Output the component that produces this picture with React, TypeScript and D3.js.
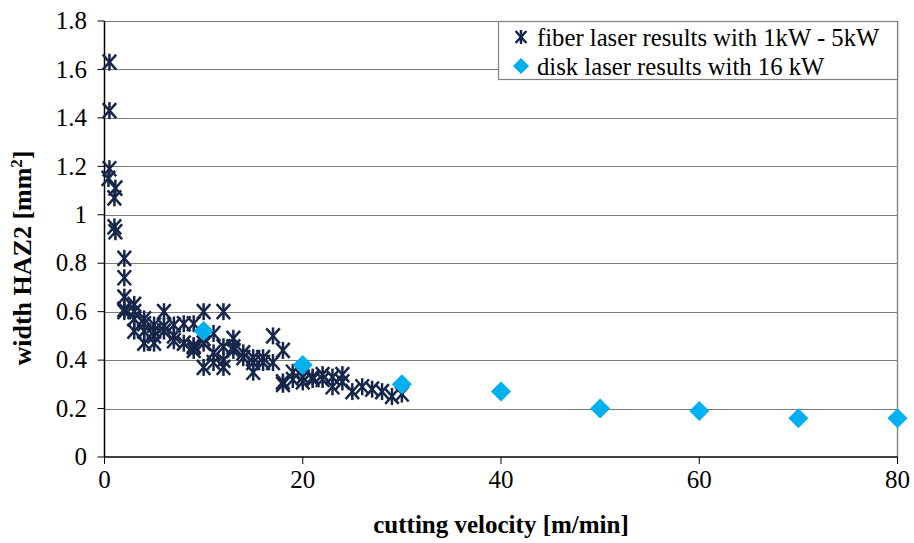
import React from "react";
import * as d3 from "d3";

// Fiber laser measurements: cutting velocity [m/min] and HAZ2 width
const fiberVelocity = [
  0.5, 0.5, 0.5, 0.4, 1.1, 1.0, 1.0, 1.1,
  2, 2, 2, 2, 2,
  3, 3, 3, 3,
  4, 4, 4, 4,
  5, 5, 5, 5,
  6, 6, 6,
  7, 7, 7,
  8, 8,
  9, 9, 9, 9,
  10, 10, 10, 10,
  11, 11, 11,
  12, 12, 12, 12,
  13, 13, 13,
  14, 14,
  15, 15, 15,
  16, 16,
  17, 17,
  18, 18, 18,
  19, 19,
  20, 20,
  21, 21,
  22, 22,
  23, 23,
  24, 24,
  25, 26, 27, 28, 29, 30,
];
const fiberWidth = [
  1.63, 1.43, 1.19, 1.15, 1.11, 1.07, 0.95, 0.93,
  0.82, 0.74, 0.66, 0.61, 0.6,
  0.63, 0.57, 0.52, 0.6,
  0.57, 0.52, 0.47, 0.55,
  0.47, 0.545, 0.5, 0.52,
  0.6, 0.52, 0.54,
  0.545, 0.48, 0.5,
  0.55, 0.47,
  0.55, 0.455, 0.46, 0.44,
  0.6, 0.47, 0.37, 0.49,
  0.51, 0.43, 0.39,
  0.6, 0.455, 0.37, 0.4,
  0.49, 0.455, 0.44,
  0.43, 0.41,
  0.41, 0.35, 0.39,
  0.41, 0.39,
  0.5, 0.39,
  0.44, 0.31, 0.3,
  0.35, 0.32,
  0.31, 0.33,
  0.33, 0.32,
  0.34, 0.32,
  0.33, 0.29,
  0.34, 0.31,
  0.27, 0.29, 0.28, 0.27, 0.25, 0.26,
];

// Disk laser measurements
const diskVelocity = [10, 20, 30, 40, 50, 60, 70, 80];
const diskWidth = [0.52, 0.38, 0.3, 0.27, 0.2, 0.19, 0.16, 0.16];

const xTicks = [0, 20, 40, 60, 80];
const yTicks = [0, 0.2, 0.4, 0.6, 0.8, 1, 1.2, 1.4, 1.6, 1.8];
const legendLabels = [
  "fiber laser results with 1kW - 5kW",
  "disk laser results with 16 kW",
];

const W = 914;
const H = 543;
const left = 104.5;
const right = 897.5;
const top = 21;
const bottom = 457;

const navy = "#15264a";
const cyan = "#00b0f0";
const serif = "Liberation Serif, DejaVu Serif, serif";

function Asterisk({ x, y, r = 7.5 }: { x: number; y: number; r?: number }) {
  const d = r * 0.9;
  return (
    <g stroke={navy} strokeWidth={2.5} fill="none">
      <line x1={x - d} y1={y - r} x2={x + d} y2={y + r} />
      <line x1={x - d} y1={y + r} x2={x + d} y2={y - r} />
      <line x1={x} y1={y - r - 1} x2={x} y2={y + r + 1} />
    </g>
  );
}

function Diamond({ x, y, r = 10 }: { x: number; y: number; r?: number }) {
  return (
    <path
      d={`M${x},${y - r}L${x + r},${y}L${x},${y + r}L${x - r},${y}Z`}
      fill={cyan}
    />
  );
}

export default function App() {
  const xScale = d3.scaleLinear().domain([0, 80]).range([left, right]);
  const yScale = d3.scaleLinear().domain([0, 1.8]).range([bottom, top]);
  const txt = { fontFamily: serif };

  return (
    <svg
      width={W}
      height={H}
      style={{ position: "absolute", left: 0, top: 0, background: "#fff", fontFamily: serif }}
    >
      <rect x={0} y={0} width={W} height={H} fill="#fff" />
      {/* gridlines */}
      {yTicks.slice(1).map((t) => (
        <line
          key={"g" + t}
          x1={left}
          x2={right}
          y1={Math.round(yScale(t)) + 0.5}
          y2={Math.round(yScale(t)) + 0.5}
          stroke="#7a7a7a"
          strokeWidth={1}
        />
      ))}
      {/* right frame */}
      <line x1={right} x2={right} y1={top} y2={bottom} stroke="#8a8a8a" strokeWidth={1.5} />

      {/* axes */}
      <line x1={left} x2={left} y1={top} y2={bottom} stroke="#000" strokeWidth={1.5} />
      <line x1={left} x2={right} y1={bottom} y2={bottom} stroke="#000" strokeWidth={1.5} />
      {yTicks.map((t) => (
        <g key={"y" + t}>
          <line x1={left - 7} x2={left} y1={yScale(t)} y2={yScale(t)} stroke="#000" strokeWidth={1} />
          <text x={87} y={yScale(t)} dy="0.33em" textAnchor="end" fontSize={25} style={txt}>
            {d3.format("~g")(t)}
          </text>
        </g>
      ))}
      {xTicks.map((t) => (
        <g key={"x" + t}>
          <line x1={xScale(t)} x2={xScale(t)} y1={bottom} y2={bottom + 7} stroke="#000" strokeWidth={1} />
          <text x={xScale(t)} y={488} textAnchor="middle" fontSize={25} style={txt}>
            {t}
          </text>
        </g>
      ))}

      {/* axis titles */}
      <text
        x={(left + right) / 2}
        y={533}
        textAnchor="middle"
        fontSize={25}
        fontWeight="bold"
        style={txt}
      >
        cutting velocity [m/min]
      </text>
      <text
        transform={`translate(31,258) rotate(-90)`}
        textAnchor="middle"
        fontSize={26}
        fontWeight="bold"
        style={txt}
      >
        width HAZ2 [mm
        <tspan fontSize={17} dy={-9}>2</tspan>
        <tspan dy={9}>]</tspan>
      </text>

      {/* series */}
      {fiberVelocity.map((v, i) => (
        <Asterisk key={"f" + i} x={xScale(v)} y={yScale(fiberWidth[i])} />
      ))}
      {diskVelocity.map((v, i) => (
        <Diamond key={"d" + i} x={xScale(v)} y={yScale(diskWidth[i])} />
      ))}

      {/* legend */}
      <rect x={498.5} y={21.5} width={399} height={58} fill="#fff" stroke="#808080" strokeWidth={1.2} />
      <Asterisk x={521} y={37} r={6} />
      <text x={537} y={46} fontSize={24.7} style={txt}>{legendLabels[0]}</text>
      <Diamond x={521} y={66} r={8} />
      <text x={537} y={75} fontSize={24.7} style={txt}>{legendLabels[1]}</text>
    </svg>
  );
}
